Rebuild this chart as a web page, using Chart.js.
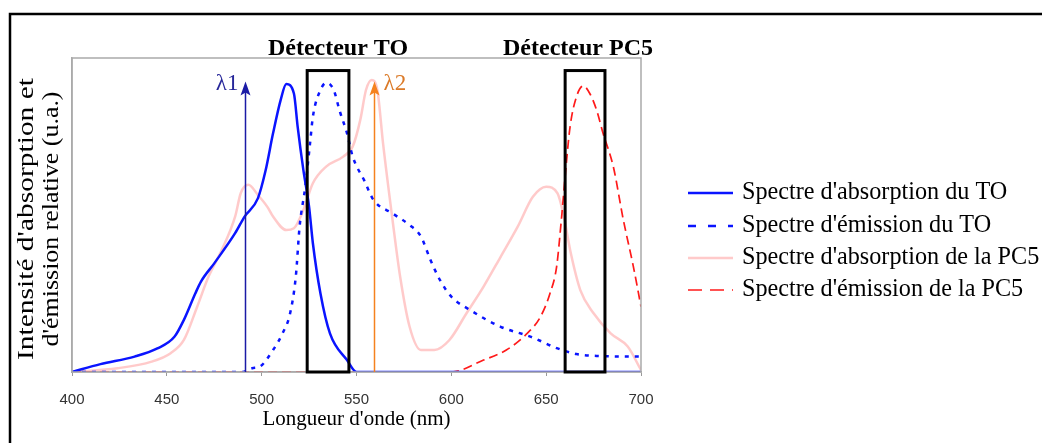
<!DOCTYPE html>
<html lang="fr">
<head>
<meta charset="UTF-8" />
<title>Spectres TO / PC5</title>
<script src="https://cdn.jsdelivr.net/npm/chart.js"></script>
<style>
  html, body { margin:0; padding:0; background:#fff; }
  #wrap { width:1042px; height:443px; }
</style>
</head>
<body>
<div id="wrap"><canvas id="spectres" width="1042" height="443"></canvas></div>
<script>
// --- data (x = wavelength in nm, y = relative intensity, 0..100) ---
const xTicks = [400, 450, 500, 550, 600, 650, 700];

const absTO_nm  = [400,415,433,445,454,459,465,468,475,486,491,498,502,506,510,513,517,519,522,525,527,531,536,545,550,600,650,700];
const absTO_val = [0,2.5,4.9,7.5,11.2,16.6,25,28.8,34.6,44.2,49.5,55.3,64,76,86.6,91.7,88.7,78,64.3,52.6,41,25,12.3,3.8,0,0,0,0];

const emTO_nm  = [400,450,490,495,499,506,511,515,518,520,523,525.5,527,531,534,538,541,545,548,554,559,569,578,584,589,594,600,610,626,642,656,666,678,700];
const emTO_val = [0,0,0,1.2,1.7,7,12.3,18.7,30.4,46.3,59,72.8,81.3,89.8,92.1,89.8,83.4,76,68.6,61.1,54.8,50.5,46.8,43.1,35.7,29.3,24,19.7,14.4,11.2,7.5,5.7,5.1,4.9];

const absPC5_nm  = [400,424,442,452,459,466,472,479,486,489,493,498,503,506,513,517,522,527,534,543,548,552,555,558,561,564,569,573,578,584,591,599,608,617,626,635,643,650,656,659,663,668,675,684,693,700];
const absPC5_val = [0,1.2,3.3,6,10.2,20.8,30.4,38.9,49.5,57,59.6,56.4,52.6,49.5,45.2,45.8,51.6,60.1,65.4,68.6,71.8,80.3,89.8,93,89.8,72.8,48.4,30.4,14.4,7,7,10.2,18.7,27.2,36.7,46.3,55.8,59,56.9,50.5,37.8,26.1,18.7,12.3,8.1,0.6];

const emPC5_nm  = [400,500,600,617,629,640,647,652,655.5,658,660,662.6,666,669.6,673,676.6,680,685.4,690.7,696,700];
const emPC5_val = [0,0,0,3.8,7,12.3,17.6,25,33.5,48.4,62.2,78.1,87.7,91.1,88.7,83.4,76,65.4,48.4,33.5,20.8];

const seriesLabels = ["Spectre d'absorption du TO", "Spectre d'émission du TO", "Spectre d'absorption de la PC5", "Spectre d'émission de la PC5"];
const yTitle = ["Intensité d'absorption et", "d'émission relative (u.a.)"];

// detector windows (nm) and excitation lines
const detTO  = [524, 546];
const detPC5 = [660, 681];
const detTop = 96;
const detLabels = ["Détecteur TO", "Détecteur PC5"];
const laserNm = [491, 559];
const laserTop = 92.5;
const laserLabels = ["λ1", "λ2"];

const pts = (xs, ys) => xs.map((x, i) => ({x: x, y: ys[i]}));

const SERIF = "'Liberation Serif', 'Times New Roman', serif";
const styles = [
  {color:'#0a14ff', width:2.5, dash:[]},
  {color:'#0a14ff', width:2.5, dash:[4,6]},
  {color:'rgba(255,180,180,0.7)', width:2.5, dash:[]},
  {color:'#ff1a1a', width:1.7, dash:[9,5]}
];

// extras: frame, detector boxes, arrows, headings, legend, y title
const extras = {
  id: 'extras',
  afterDatasetsDraw(chart) {
    const {ctx, chartArea: a, scales: {x, y}} = chart;
    ctx.save();
    // light grey plot frame (top/right)
    ctx.strokeStyle = '#aaaaaa'; ctx.lineWidth = 1.5;
    ctx.strokeRect(a.left, a.top, a.right - a.left, a.bottom - a.top);

    // detector boxes
    ctx.strokeStyle = '#000'; ctx.lineWidth = 3;
    [detTO, detPC5].forEach(d => {
      const l = x.getPixelForValue(d[0]), r = x.getPixelForValue(d[1]);
      const t = y.getPixelForValue(detTop), b = y.getPixelForValue(0);
      ctx.strokeRect(l, t, r - l, b - t);
    });

    // excitation arrows
    const arrowCols = ['#1b1ba6', '#f5821f'];
    const labelCols = ['#27279a', '#db7a28'];
    laserNm.forEach((nm, i) => {
      const px = Math.round(x.getPixelForValue(nm)) + 0.5;
      const t = y.getPixelForValue(laserTop), b = y.getPixelForValue(0);
      ctx.strokeStyle = arrowCols[i]; ctx.fillStyle = arrowCols[i]; ctx.lineWidth = 1.5;
      ctx.beginPath(); ctx.moveTo(px, b); ctx.lineTo(px, t + 8); ctx.stroke();
      ctx.beginPath(); ctx.moveTo(px, t); ctx.lineTo(px - 5, t + 14); ctx.lineTo(px, t + 11); ctx.lineTo(px + 5, t + 14); ctx.closePath(); ctx.fill();
      ctx.fillStyle = labelCols[i];
      ctx.font = '23px ' + SERIF;
      ctx.textBaseline = 'alphabetic';
      if (i === 0) { ctx.textAlign = 'right'; ctx.fillText(laserLabels[i], px - 7, 90); }
      else { ctx.textAlign = 'left'; ctx.fillText(laserLabels[i], px + 9, 90); }
    });

    // headings above detectors
    ctx.fillStyle = '#000'; ctx.font = 'bold 24px ' + SERIF; ctx.textAlign = 'center';
    ctx.fillText(detLabels[0], 338, 55);
    ctx.fillText(detLabels[1], 578, 55);

    // legend
    const rows = [193, 226, 258, 290];
    ctx.font = '24.2px ' + SERIF; ctx.textAlign = 'left'; ctx.textBaseline = 'middle';
    rows.forEach((ry, i) => {
      const s = styles[i];
      ctx.strokeStyle = s.color; ctx.lineWidth = s.width; ctx.setLineDash(i === 1 ? [8,12] : (i === 3 ? [14,8] : s.dash));
      ctx.beginPath(); ctx.moveTo(688, ry); ctx.lineTo(733, ry); ctx.stroke();
      ctx.setLineDash([]);
      ctx.fillStyle = '#000';
      ctx.fillText(seriesLabels[i], 742, ry);
    });

    // y title: two rotated lines, stretched along the text to the reference length
    const cx = [27, 52], len = [282, 255];
    ctx.font = '23px ' + SERIF; ctx.textAlign = 'center'; ctx.textBaseline = 'middle'; ctx.fillStyle = '#000';
    yTitle.forEach((t, i) => {
      const w = ctx.measureText(t).width;
      ctx.save();
      ctx.translate(cx[i], 219);
      ctx.rotate(-Math.PI / 2);
      ctx.scale(len[i] / w, 1);
      ctx.fillText(t, 0, 0);
      ctx.restore();
    });

    // outer black frame (runs off the right/bottom edges)
    ctx.strokeStyle = '#000'; ctx.lineWidth = 2.5;
    ctx.beginPath(); ctx.moveTo(10, 460); ctx.lineTo(10, 14); ctx.lineTo(1060, 14); ctx.stroke();
    ctx.restore();
  }
};

const ds = [
  [absTO_nm, absTO_val], [emTO_nm, emTO_val], [absPC5_nm, absPC5_val], [emPC5_nm, emPC5_val]
].map((p, i) => ({
  label: seriesLabels[i],
  data: pts(p[0], p[1]),
  borderColor: styles[i].color,
  borderWidth: styles[i].width,
  borderDash: styles[i].dash,
  pointRadius: 0,
  cubicInterpolationMode: 'monotone',
  fill: false,
  order: i === 2 ? 5 : 1
}));

new Chart(document.getElementById('spectres'), {
  type: 'line',
  data: { datasets: ds },
  options: {
    responsive: false,
    animation: false,
    layout: { padding: { left: 0, top: 58, right: 401, bottom: 0 } },
    plugins: { legend: { display: false }, tooltip: { enabled: false } },
    scales: {
      x: {
        type: 'linear', min: 400, max: 700,
        afterBuildTicks: s => { s.ticks = xTicks.map(v => ({value: v})); },
        afterFit: s => { s.height = 71; },
        ticks: { color: '#333', font: { family: "'Liberation Sans', Arial, sans-serif", size: 15 }, padding: 15 },
        grid: { display: true, drawOnChartArea: false, tickLength: 4, color: '#999' },
        border: { display: true, color: '#aaaaaa', width: 1.5 },
        title: { display: true, text: "Longueur d'onde (nm)", color: '#000',
                 font: { family: SERIF, size: 21, lineHeight: 1.2 }, padding: { top: 0, bottom: 11 } }
      },
      y: {
        type: 'linear', min: 0, max: 100,
        afterFit: s => { s.width = 72; },
        ticks: { display: false },
        grid: { display: false },
        border: { display: true, color: '#aaaaaa', width: 1.5 },
        title: { display: false }
      }
    }
  },
  plugins: [extras]
});
</script>
</body>
</html>
